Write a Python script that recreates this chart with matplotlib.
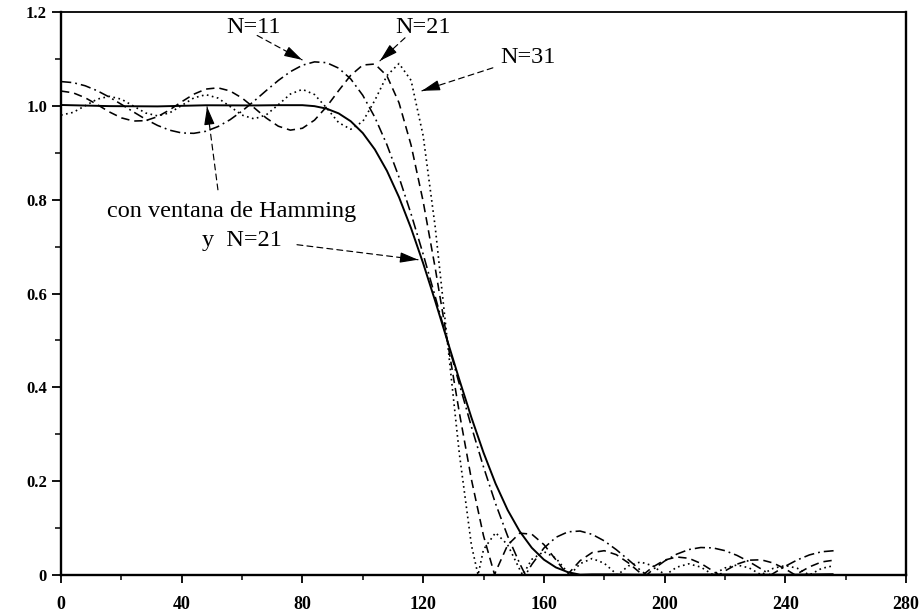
import matplotlib
matplotlib.use("Agg")
import matplotlib.pyplot as plt
from matplotlib.ticker import MultipleLocator, FixedLocator

# ---------------- data ----------------
x_n11 = [0, 4, 8, 12, 16, 20, 24, 28, 32, 36, 40, 44, 48, 52, 56, 60, 64, 68, 72, 76,
         80, 84, 88, 92, 96, 100, 104, 108, 112, 116, 120, 124, 128, 132, 136, 140,
         144, 148, 152, 153.9, 156, 160, 164, 168, 172, 176, 180, 184, 188, 192, 194.1,
         196, 200, 204, 208, 212, 216, 220, 224, 228, 232, 235.2, 236, 240, 244, 248,
         252, 256]
y_n11 = [1.0517, 1.0495, 1.0428, 1.0322, 1.0187, 1.0032, 0.9871, 0.9716, 0.9582, 0.9481,
         0.9422, 0.9414, 0.9458, 0.9557, 0.9703, 0.9889, 1.0102, 1.0325, 1.0540, 1.0728,
         1.0866, 1.0937, 1.0920, 1.0803, 1.0573, 1.0224, 0.9755, 0.9171, 0.8479, 0.7696,
         0.6840, 0.5933, 0.5, 0.4067, 0.3160, 0.2304, 0.1521, 0.0829, 0.0245, 0.0,
         0.0224, 0.0573, 0.0803, 0.0920, 0.0937, 0.0866, 0.0728, 0.0540, 0.0325, 0.0102,
         0.0, 0.0111, 0.0297, 0.0443, 0.0542, 0.0586, 0.0578, 0.0519, 0.0418, 0.0284,
         0.0129, 0.0, 0.0032, 0.0187, 0.0322, 0.0428, 0.0495, 0.0517]

x_n21 = [0, 4, 8, 12, 16, 20, 24, 28, 32, 36, 40, 44, 48, 52, 56, 60, 64, 68, 72, 76,
         80, 84, 88, 92, 96, 100, 104, 108, 112, 116, 120, 124, 128, 132, 136, 140,
         143.7, 144, 148, 152, 156, 160, 164, 167.8, 168, 172, 176, 180, 184, 188, 192,
         192.8, 196, 200, 204, 208, 212, 216, 218, 220, 224, 228, 232, 236, 240, 243.3,
         244, 248, 252, 256]
y_n21 = [1.0315, 1.0278, 1.0173, 1.0027, 0.9871, 0.9744, 0.9676, 0.9684, 0.9769, 0.9914,
         1.0087, 1.0248, 1.0357, 1.0384, 1.0318, 1.0166, 0.9959, 0.9741, 0.9566, 0.9482,
         0.9522, 0.9695, 0.9980, 1.0324, 1.0650, 1.0870, 1.0891, 1.0639, 1.0065, 0.9163,
         0.7964, 0.6542, 0.5, 0.3458, 0.2036, 0.0837, 0.0, 0.0065, 0.0639, 0.0891,
         0.0870, 0.0650, 0.0324, 0.0, 0.0020, 0.0305, 0.0478, 0.0518, 0.0434, 0.0259,
         0.0041, 0.0, 0.0166, 0.0318, 0.0384, 0.0357, 0.0248, 0.0087, 0.0, 0.0086,
         0.0231, 0.0316, 0.0324, 0.0256, 0.0129, 0.0, 0.0027, 0.0173, 0.0278, 0.0315]

x_n31 = [0, 4, 8, 12, 16, 20, 24, 28, 32, 36, 40, 44, 48, 52, 56, 60, 64, 68, 72, 76,
         80, 84, 88, 92, 96, 100, 104, 108, 112, 116, 120, 124, 128, 132, 136, 138.2,
         140, 144, 148, 152, 153.0, 156, 160, 164, 168, 168.6, 172, 176, 180, 184, 184.4,
         188, 192, 196, 200, 200.3, 204, 208, 212, 216, 220, 224, 228, 232, 236, 240,
         244, 248, 252, 256]
y_n31 = [0.9802, 0.9860, 1.0001, 1.0143, 1.0202, 1.0142, 0.9996, 0.9848, 0.9786, 0.9850,
         1.0007, 1.0169, 1.0238, 1.0166, 0.9987, 0.9802, 0.9722, 0.9807, 1.0023, 1.0251,
         1.0351, 1.0241, 0.9955, 0.9642, 0.9501, 0.9666, 1.0118, 1.0644, 1.0902, 1.0543,
         0.9365, 0.7416, 0.5, 0.2584, 0.0635, 0.0, 0.0543, 0.0902, 0.0644, 0.0118, 0.0,
         0.0334, 0.0499, 0.0358, 0.0045, 0.0, 0.0241, 0.0351, 0.0251, 0.0023, 0.0,
         0.0193, 0.0278, 0.0198, 0.0013, 0.0, 0.0166, 0.0238, 0.0169, 0.0007, 0.0150,
         0.0214, 0.0152, 0.0004, 0.0142, 0.0202, 0.0143, 0.0001, 0.0140, 0.0198]

x_ham = [0, 16, 32, 48, 64, 72, 80, 84, 88, 92, 96, 100, 104, 108, 112, 116, 120, 124,
         128, 132, 136, 140, 144, 148, 152, 156, 160, 164, 168, 172, 176, 184, 192, 208,
         224, 240, 256]
y_ham = [1.0018, 0.9994, 0.9988, 1.0012, 1.0008, 1.0014, 1.0014, 0.9993, 0.9940, 0.9839,
         0.9672, 0.9420, 0.9070, 0.8615, 0.8053, 0.7391, 0.6645, 0.5838, 0.5, 0.4162,
         0.3355, 0.2609, 0.1947, 0.1385, 0.0930, 0.0580, 0.0328, 0.0161, 0.0060, 0.0007,
         0.0014, 0.0014, 0.0008, 0.0012, 0.0012, 0.0006, 0.0018]

x_ticks = [0, 40, 80, 120, 160, 200, 240, 280]
x_ticklabels = ["0", "40", "80", "120", "160", "200", "240", "280"]
y_ticks = [0, 0.2, 0.4, 0.6, 0.8, 1.0, 1.2]
y_ticklabels = ["0", "0.2", "0.4", "0.6", "0.8", "1.0", "1.2"]

# ---------------- figure ----------------
W, H = 919, 616
fig = plt.figure(figsize=(W / 100, H / 100), dpi=100)
ax = fig.add_axes([61 / W, 1 - 575 / H, (906 - 61) / W, (575 - 12) / H])

serif = ["Liberation Serif", "DejaVu Serif"]

lw_d = 1.15
ax.plot(x_n11, y_n11, color="black", lw=lw_d,
        dashes=(7.4 / lw_d, 2.9 / lw_d, 1.3 / lw_d, 2.9 / lw_d))
ax.plot(x_n21, y_n21, color="black", lw=lw_d, dashes=(6.0 / lw_d, 3.6 / lw_d))
ax.plot(x_n31, y_n31, color="black", lw=1.2, dashes=(1.2 / 1.2, 2.5 / 1.2))
ax.plot(x_ham, y_ham, color="black", lw=1.4, solid_capstyle="butt")

ax.set_xlim(0, 280)
ax.set_ylim(0, 1.2)

ax.xaxis.set_major_locator(FixedLocator(x_ticks))
ax.set_xticklabels(x_ticklabels)
ax.xaxis.set_minor_locator(MultipleLocator(20))
ax.yaxis.set_major_locator(FixedLocator(y_ticks))
ax.set_yticklabels(y_ticklabels)
ax.yaxis.set_minor_locator(MultipleLocator(0.1))

ax.tick_params(axis="both", which="major", direction="out", width=1.3, color="black")
ax.tick_params(axis="both", which="minor", direction="out", width=1.1, color="black")
ax.tick_params(axis="x", which="major", length=6, pad=9)
ax.tick_params(axis="x", which="minor", length=3.5)
ax.tick_params(axis="y", which="major", length=6.5, pad=3.5)
ax.tick_params(axis="y", which="minor", length=4)

for lab in ax.get_xticklabels():
    lab.set_fontfamily(serif)
    lab.set_fontweight("bold")
    lab.set_fontsize(13)
for lab in ax.get_yticklabels():
    lab.set_fontfamily(serif)
    lab.set_fontweight("bold")
    lab.set_fontsize(12)

for side in ["left", "bottom", "right"]:
    ax.spines[side].set_linewidth(1.7)
ax.spines["top"].set_linewidth(1.3)

# ---------------- annotations ----------------
tfs = 17.5


def dashed_arrow(start, tip, open_head=False):
    # dashed shaft
    ax.annotate("", xy=tip, xytext=start,
                arrowprops=dict(arrowstyle="-", linestyle=(0, (5.0, 3.5)), lw=0.85,
                                color="black", shrinkA=0, shrinkB=0))
    # solid head only
    dx = tip[0] - start[0]
    dy = tip[1] - start[1]
    back = (tip[0] - 0.12 * dx, tip[1] - 0.12 * dy)
    ax.annotate("", xy=tip, xytext=back,
                arrowprops=dict(arrowstyle="-|>,head_length=1.1,head_width=0.32",
                                lw=0.85, color="black",
                                facecolor="white" if open_head else "black",
                                shrinkA=0, shrinkB=0))


ax.text(63.8, 1.168, "N=11", fontsize=tfs, family=serif, ha="center", va="center")
dashed_arrow((65.0, 1.150), (79.9, 1.098))

ax.text(120.0, 1.166, "N=21", fontsize=tfs, family=serif, ha="center", va="center")
dashed_arrow((114.0, 1.145), (105.7, 1.096))

ax.text(154.7, 1.104, "N=31", fontsize=tfs, family=serif, ha="center", va="center")
dashed_arrow((143.1, 1.081), (119.6, 1.032), open_head=True)

ax.text(56.7, 0.774, "con ventana de Hamming", fontsize=tfs, family=serif,
        ha="center", va="center")
ax.text(60.0, 0.712, "y  N=21", fontsize=tfs, family=serif, ha="center", va="center")
dashed_arrow((52.0, 0.821), (48.4, 0.998))
dashed_arrow((78.2, 0.704), (118.3, 0.672))

fig.savefig("out.png", dpi=100)
